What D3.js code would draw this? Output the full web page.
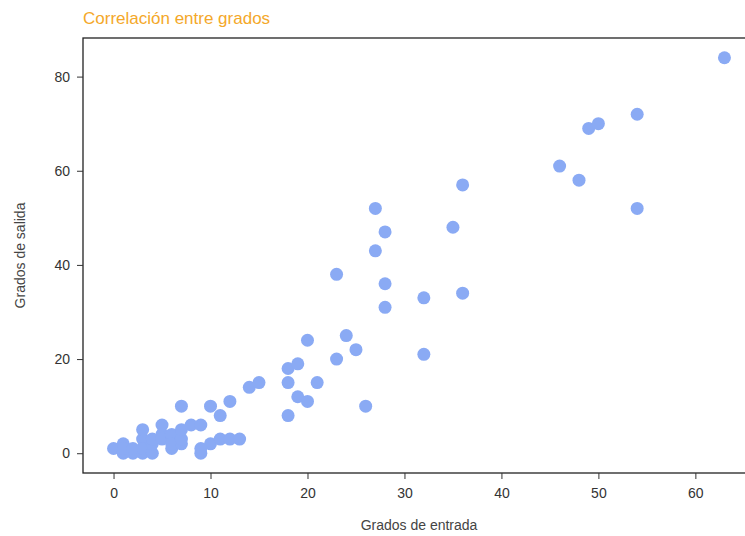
<!DOCTYPE html>
<html>
<head>
<meta charset="utf-8">
<script src="https://cdn.jsdelivr.net/npm/d3@7"></script>
<style>
  body { margin: 0; background: #fff; }
  svg { display: block; font-family: "Liberation Sans", Arial, sans-serif; }
</style>
</head>
<body>
<svg id="chart" width="745" height="536"></svg>
<script>
// Grados de entrada / salida por nodo
const inDegree = [
  0, 1, 1, 1, 2, 2, 3, 3, 3, 3, 4, 4, 4, 5, 5, 5, 6, 6, 6, 6,
  7, 7, 7, 7, 8, 9, 9, 9, 10, 10, 11, 11, 12, 12, 13, 14, 15,
  18, 18, 18, 19, 19, 20, 20, 21, 23, 23, 24, 25, 26,
  27, 27, 28, 28, 28, 32, 32, 35, 36, 36,
  46, 48, 49, 50, 54, 54, 63
];
const outDegree = [
  1, 0, 2, 1, 0, 1, 0, 3, 5, 1, 0, 2, 3, 4, 6, 3, 1, 3, 4, 2,
  2, 3, 5, 10, 6, 6, 0, 1, 2, 10, 3, 8, 3, 11, 3, 14, 15,
  18, 15, 8, 19, 12, 24, 11, 15, 38, 20, 25, 22, 10,
  52, 43, 47, 36, 31, 33, 21, 48, 57, 34,
  61, 58, 69, 70, 72, 52, 84
];
const xTicks = [0, 10, 20, 30, 40, 50, 60];
const yTicks = [0, 20, 40, 60, 80];

const points = inDegree.map((d, i) => ({ x: d, y: outDegree[i] }));

const svg = d3.select("#chart");
const plot = { left: 83, top: 38, right: 755, bottom: 473 };

// matplotlib-style 5% margins around the data
function padded(values) {
  const [lo, hi] = d3.extent(values);
  const m = (hi - lo) * 0.05;
  return [lo - m, hi + m];
}

const x = d3.scaleLinear().domain(padded(inDegree)).range([plot.left, plot.right]);
const y = d3.scaleLinear().domain(padded(outDegree)).range([plot.bottom, plot.top]);

// Points
svg.append("g")
  .selectAll("circle")
  .data(points)
  .join("circle")
  .attr("cx", d => x(d.x))
  .attr("cy", d => y(d.y))
  .attr("r", 6.5)
  .attr("fill", "#8aaaf4");

// Spines (right one falls outside the picture)
svg.append("rect")
  .attr("x", plot.left)
  .attr("y", plot.top)
  .attr("width", plot.right - plot.left)
  .attr("height", plot.bottom - plot.top)
  .attr("fill", "none")
  .attr("stroke", "#222")
  .attr("stroke-width", 1.3);

// Axes
const xAxis = svg.append("g")
  .attr("transform", `translate(0,${plot.bottom})`)
  .call(d3.axisBottom(x).tickValues(xTicks).tickSize(6).tickPadding(9));
const yAxis = svg.append("g")
  .attr("transform", `translate(${plot.left},0)`)
  .call(d3.axisLeft(y).tickValues(yTicks).tickSize(6).tickPadding(7));

[xAxis, yAxis].forEach(g => {
  g.select(".domain").remove();
  g.selectAll(".tick line").attr("stroke", "#333").attr("stroke-width", 1);
  g.selectAll(".tick text")
    .attr("fill", "#333")
    .style("font-size", "14px")
    .style("font-family", "Liberation Sans, Arial, sans-serif");
});

// Axis labels
svg.append("text")
  .attr("x", (plot.left + plot.right) / 2)
  .attr("y", 530)
  .attr("text-anchor", "middle")
  .attr("fill", "#444")
  .style("font-size", "14px")
  .text("Grados de entrada");

svg.append("text")
  .attr("transform", `translate(25,${(plot.top + plot.bottom) / 2}) rotate(-90)`)
  .attr("text-anchor", "middle")
  .attr("fill", "#444")
  .style("font-size", "14px")
  .text("Grados de salida");

// Title
svg.append("text")
  .attr("x", plot.left)
  .attr("y", 24)
  .attr("fill", "#f4a82a")
  .style("font-size", "17px")
  .text("Correlación entre grados");
</script>
</body>
</html>
